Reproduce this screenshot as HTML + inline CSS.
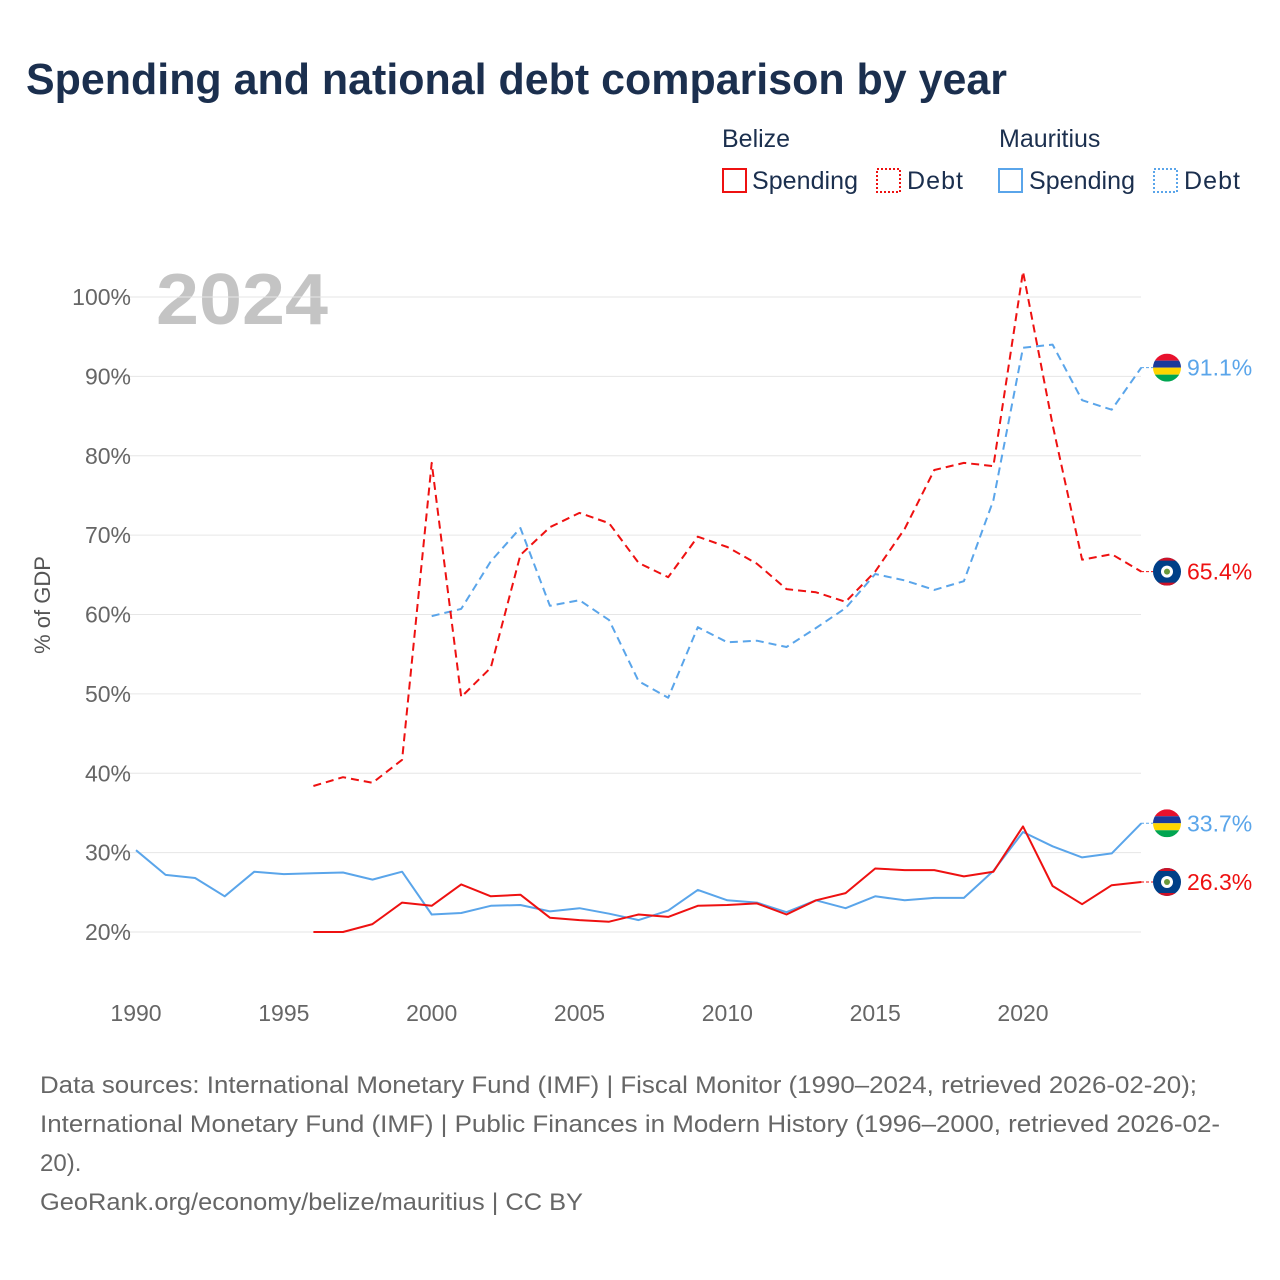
<!DOCTYPE html>
<html><head><meta charset="utf-8">
<style>
body{margin:0;background:#fff;font-family:"Liberation Sans",sans-serif;}
#wrap{position:relative;width:1280px;height:1280px;overflow:hidden;}
</style></head>
<body>
<div id="wrap">
<svg id="chart" width="1280" height="1280" xmlns="http://www.w3.org/2000/svg">
<text x="26" y="94" font-size="44" font-weight="bold" fill="#1b2f4e" textLength="981" lengthAdjust="spacingAndGlyphs">Spending and national debt comparison by year</text>
<g font-size="25" fill="#1b2f4e">
<text x="722" y="147">Belize</text>
<text x="999" y="147">Mauritius</text>
<g><rect x="723" y="169" width="23" height="23" fill="none" stroke="#ee1111" stroke-width="2"/><text x="752" y="189" textLength="106">Spending</text></g>
<g><rect x="877" y="169" width="23" height="23" fill="none" stroke="#ee1111" stroke-width="2" stroke-dasharray="2,2"/><text x="907" y="189" textLength="56">Debt</text></g>
<g><rect x="999" y="169" width="23" height="23" fill="none" stroke="#5aa5ea" stroke-width="2"/><text x="1029" y="189" textLength="106">Spending</text></g>
<g><rect x="1154" y="169" width="23" height="23" fill="none" stroke="#5aa5ea" stroke-width="2" stroke-dasharray="2,2"/><text x="1184" y="189" textLength="56">Debt</text></g>
</g>
<text x="156" y="324" font-size="72" font-weight="bold" fill="#c4c4c4" textLength="172" lengthAdjust="spacingAndGlyphs">2024</text>
<g id="grid"></g><g id="axes"></g><g id="series"></g><g id="ends"></g>
<text transform="translate(50,605) rotate(-90)" text-anchor="middle" font-size="22" fill="#555">% of GDP</text>
<g font-size="24" fill="#666">
<text x="40" y="1093" textLength="1157" lengthAdjust="spacingAndGlyphs">Data sources: International Monetary Fund (IMF) | Fiscal Monitor (1990–2024, retrieved 2026-02-20);</text>
<text x="40" y="1132" textLength="1180" lengthAdjust="spacingAndGlyphs">International Monetary Fund (IMF) | Public Finances in Modern History (1996–2000, retrieved 2026-02-</text>
<text x="40" y="1171">20).</text>
<text x="40" y="1210" textLength="543" lengthAdjust="spacingAndGlyphs">GeoRank.org/economy/belize/mauritius | CC BY</text>
</g>
</svg>
</div>
<script>
const yTicks=[20,30,40,50,60,70,80,90,100];
const xTicks=[1990,1995,2000,2005,2010,2015,2020];
const belizeSpendStart=1996;
const belizeSpending=[20.0,20.0,21.0,23.7,23.3,26.0,24.5,24.7,21.8,21.5,21.3,22.2,21.9,23.3,23.4,23.6,22.2,24.0,24.9,28.0,27.8,27.8,27.0,27.6,33.3,25.8,23.5,25.9,26.3];
const belizeDebtStart=1996;
const belizeDebt=[38.4,39.5,38.8,41.7,79.1,49.6,53.3,67.5,71.0,72.8,71.5,66.5,64.7,69.8,68.5,66.4,63.2,62.8,61.6,65.4,70.8,78.2,79.1,78.7,103.2,83.9,66.9,67.6,65.4];
const mauSpendStart=1990;
const mauSpending=[30.3,27.2,26.8,24.5,27.6,27.3,27.4,27.5,26.6,27.6,22.2,22.4,23.3,23.4,22.6,23.0,22.3,21.5,22.7,25.3,24.0,23.7,22.5,24.0,23.0,24.5,24.0,24.3,24.3,27.7,32.6,30.8,29.4,29.9,33.7];
const mauDebtStart=2000;
const mauDebt=[59.8,60.7,66.7,70.9,61.1,61.8,59.3,51.6,49.5,58.4,56.5,56.7,55.9,58.3,60.8,65.1,64.3,63.1,64.2,74.4,93.6,94.0,87.0,85.8,91.1];

const NS="http://www.w3.org/2000/svg";
const X=yr=>136+(yr-1990)*(1023-136)/30;
const Y=v=>932-(v-20)*(932-297)/80;
function mk(tag,attrs,parent){const e=document.createElementNS(NS,tag);for(const k in attrs)e.setAttribute(k,attrs[k]);parent.appendChild(e);return e;}
const grid=document.getElementById('grid'),axes=document.getElementById('axes'),series=document.getElementById('series'),ends=document.getElementById('ends');
yTicks.forEach(t=>{
  const l=mk('line',{x1:112,x2:1141,y1:Y(t),y2:Y(t),stroke:'#e6e6e6','stroke-width':1},grid);
  
  
  const tx=mk('text',{x:131,y:Y(t)+8,'text-anchor':'end','font-size':23,fill:'#666'},axes);
  tx.textContent=t+'%';
  
  
});
xTicks.forEach(t=>{
  const tx=mk('text',{x:X(t),y:1021,'text-anchor':'middle','font-size':23,fill:'#666'},axes);
  tx.textContent=t;
  
  
});
function line(vals,start,color,dash,name){
  const d=vals.map((v,i)=>(i?'L':'M')+X(start+i).toFixed(1)+','+Y(v).toFixed(1)).join('');
  const p=mk('path',{d:d,fill:'none',stroke:color,'stroke-width':2,'stroke-dasharray':dash||'none','stroke-linejoin':'round'},series);
  
  
}
line(mauSpending,mauSpendStart,'#5aa5ea','', 'line-mauritius-spending');
line(belizeSpending,belizeSpendStart,'#ee1111','', 'line-belize-spending');
line(mauDebt,mauDebtStart,'#5aa5ea','8,5','line-mauritius-debt');
line(belizeDebt,belizeDebtStart,'#ee1111','8,5','line-belize-debt');
function flag(cy,country,g){
  const cx=1167,r=14;
  const id='clip'+country+Math.round(cy);
  const cp=mk('clipPath',{id:id},g);mk('circle',{cx:cx,cy:cy,r:r},cp);
  const fg=mk('g',{'clip-path':'url(#'+id+')'},g);
  if(country==='mauritius'){
    ['#e8112d','#1a3a9b','#ffd500','#00a551'].forEach((c,i)=>mk('rect',{x:cx-r,y:cy-r+i*7,width:28,height:7,fill:c},fg));
  } else {
    mk('rect',{x:cx-r,y:cy-r,width:28,height:28,fill:'#003f87'},fg);
    mk('rect',{x:cx-r,y:cy-r,width:28,height:3,fill:'#ce1126'},fg);
    mk('rect',{x:cx-r,y:cy+r-3,width:28,height:3,fill:'#ce1126'},fg);
    mk('circle',{cx:cx,cy:cy,r:6,fill:'#fff'},fg);
    mk('circle',{cx:cx,cy:cy,r:3,fill:'#6a9a3a'},fg);
  }
}
function endLabel(val,color,country,name){
  const g=mk('g',{},ends);
  
  
  const y=Y(val);
  mk('line',{x1:1141,x2:1153,y1:y,y2:y,stroke:color,'stroke-width':1,'stroke-dasharray':'3,2'},g);
  flag(y,country,g);
  const t=mk('text',{x:1187,y:y+8,'font-size':23,fill:color},g);
  t.textContent=val.toFixed(1)+'%';
}
endLabel(mauDebt[mauDebt.length-1],'#5aa5ea','mauritius','end-label-mauritius-debt');
endLabel(belizeDebt[belizeDebt.length-1],'#ee1111','belize','end-label-belize-debt');
endLabel(mauSpending[mauSpending.length-1],'#5aa5ea','mauritius','end-label-mauritius-spending');
endLabel(belizeSpending[belizeSpending.length-1],'#ee1111','belize','end-label-belize-spending');
</script>
</body></html>
